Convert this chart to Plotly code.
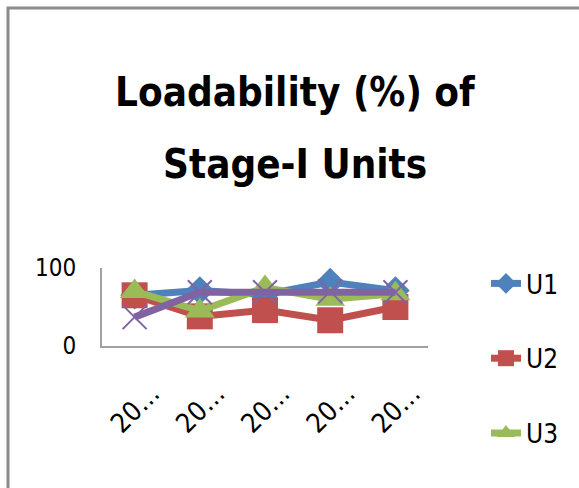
import plotly.graph_objects as go

years = ["20…", "20…", "20…", "20…", "20…"]
x_idx = [0, 1, 2, 3, 4]
u1 = [65, 71, 66, 82, 71]
u2 = [65, 38, 46, 33, 50]
u3 = [70, 45, 75, 60, 67]
u4 = [37, 69, 69, 70, 69]

series = [
    ("U1", u1, "#4F81BD", "diamond", 22),
    ("U2", u2, "#C0504D", "square", 26),
    ("U3", u3, "#9BBB59", "triangle-up", 26),
    ("U4", u4, "#8064A2", "x-thin-open", 24),
]
title_lines = ["Loadability (%) of", "Stage-I Units"]

W, H = 579, 488
L, R, T, B = 102, 151, 268, 142

fig = go.Figure()
for name, vals, col, sym, msize in series:
    fig.add_trace(go.Scatter(
        x=x_idx, y=vals, name=name, mode="lines+markers",
        line=dict(color=col, width=7),
        marker=dict(symbol=sym, size=msize, color=col,
                    line=dict(color=col, width=2 if sym == "x-thin-open" else 0)),
        legendgroup=name, showlegend=(name != "U4"),
    ))

font_fam = "DejaVu Sans Condensed, Open Sans, sans-serif"
pw = W - L - R
ph = H - T - B
def px(x):
    return (x - L) / pw
def py(y):
    return 1 - (y - T) / ph

annotations = []
for txt, yc in zip(title_lines, [92, 164]):
    annotations.append(dict(text="<b>%s</b>" % txt, xref="paper", yref="paper",
                            x=px(295), y=py(yc), xanchor="center", yanchor="middle",
                            showarrow=False,
                            font=dict(family=font_fam, size=40, color="black")))

fig.update_layout(
    width=W, height=H,
    margin=dict(l=L, r=R, t=T, b=B, autoexpand=False),
    paper_bgcolor="white", plot_bgcolor="white",
    font=dict(family=font_fam, color="black"),
    xaxis=dict(range=[-0.5, 4.5], tickvals=x_idx, ticktext=years, tickangle=-45,
               showgrid=False, showline=True, linecolor="#A0A0A0", linewidth=2,
               ticks="", tickfont=dict(size=27), zeroline=False, automargin=False,
               ticklabelstandoff=19, ticklabelshift=17),
    yaxis=dict(range=[0, 100], tickvals=[0, 100], showgrid=True, gridcolor="#A0A0A0",
               gridwidth=2, showline=True, linecolor="#A0A0A0", linewidth=2,
               ticks="", tickfont=dict(size=24), zeroline=False, automargin=False,
               ticklabelstandoff=19),
    showlegend=True,
    legend=dict(x=px(486), y=py(260), xanchor="left", yanchor="top",
                font=dict(size=26, family=font_fam), tracegroupgap=38,
                bgcolor="rgba(0,0,0,0)", maxheight=400),
    annotations=annotations,
    shapes=[dict(type="rect", xref="paper", yref="paper",
                 x0=px(8), x1=px(620), y0=py(8), y1=py(530),
                 line=dict(color="#8C8C8C", width=3))],
)

fig.write_html("out.html", config={"displayModeBar": False},
               post_script="document.body.style.margin='0';document.body.style.overflow='hidden';")
